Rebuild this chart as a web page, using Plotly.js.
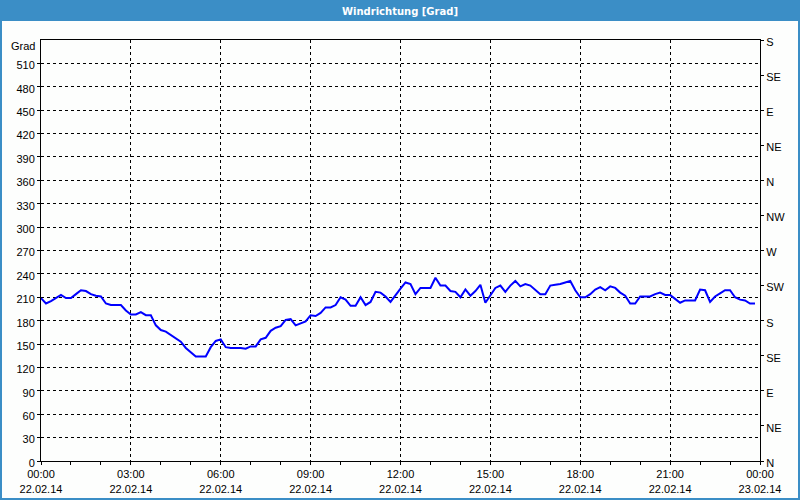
<!DOCTYPE html>
<html>
<head>
<meta charset="utf-8">
<script src="https://cdn.plot.ly/plotly-3.0.1.min.js"></script>
<style>
  html, body { margin: 0; padding: 0; background: #fdfefd; }
  #chart { width: 800px; height: 500px; }
</style>
</head>
<body>
<div id="chart"></div>
<script>
// Windrichtung in Grad, 10-Minuten-Werte ab 22.02.14 00:00
const startTime = '2014-02-22T00:00:00';
const endTime = '2014-02-23T00:00:00';
const stepMinutes = 10;

const direction = [
  209, 202, 205, 209, 213, 209, 209, 214, 219, 218, 214, 212,
  211, 202, 200, 200, 200, 193, 188, 188, 191, 187, 187, 174,
  168, 166, 162, 158, 153, 145, 139, 134, 134, 134, 146, 154,
  156, 146, 145, 145, 145, 144, 147, 147, 156, 158, 167, 171,
  173, 181, 182, 174, 177, 179, 187, 186, 190, 197, 197, 200,
  210, 207, 199, 199, 210, 200, 204, 217, 216, 211, 204, 213,
  221, 229, 227, 214, 222, 222, 222, 235, 225, 225, 218, 217,
  210, 220, 212, 218, 226, 203, 212, 222, 225, 217, 225, 231,
  224, 227, 225, 219, 214, 214, 225, 226, 227, 229, 231, 219,
  210, 210, 214, 220, 223, 219, 224, 222, 216, 212, 202, 202,
  211, 211, 211, 214, 216, 213, 213, 208, 203, 206, 206, 206,
  220, 219, 204, 211, 215, 219, 219, 210, 207, 206, 202, 202
];

const leftTicks = [0, 30, 60, 90, 120, 150, 180, 210, 240, 270, 300, 330, 360, 390, 420, 450, 480, 510];
const rightTicks = [0, 45, 90, 135, 180, 225, 270, 315, 360, 405, 450, 495, 540];
const rightLabels = ['N', 'NE', 'E', 'SE', 'S', 'SW', 'W', 'NW', 'N', 'NE', 'E', 'SE', 'S'];

function timeAxis() {
  const t0 = new Date(startTime.replace('T', ' ')).getTime();
  return direction.map((_, i) => {
    const d = new Date(t0 + i * stepMinutes * 60000);
    const p = (n) => String(n).padStart(2, '0');
    return `${d.getFullYear()}-${p(d.getMonth() + 1)}-${p(d.getDate())} ${p(d.getHours())}:${p(d.getMinutes())}`;
  });
}

// plot area in pixels: left 41, right 760, top 40, bottom 461
const plot = { l: 41, r: 760, t: 40, b: 461 };
const px = (x) => (x - plot.l) / (plot.r - plot.l);
const py = (y) => (plot.b - y) / (plot.b - plot.t);
const frameBlue = '#3b8ec6';

const times = timeAxis();
const font = { family: 'Liberation Sans, Arial, sans-serif', size: 11, color: '#000' };

const traces = [
  {
    x: times,
    y: direction,
    type: 'scatter',
    mode: 'lines',
    line: { color: '#0000ff', width: 2 },
    hoverinfo: 'x+y',
  },
  {
    x: times,
    y: direction,
    yaxis: 'y2',
    type: 'scatter',
    mode: 'lines',
    line: { width: 0 },
    opacity: 0,
    hoverinfo: 'skip',
  },
];

const layout = {
  width: 800,
  height: 500,
  showlegend: false,
  paper_bgcolor: '#fdfefd',
  plot_bgcolor: '#fdfefd',
  font,
  margin: { l: plot.l, r: 800 - plot.r, t: plot.t, b: 500 - plot.b, pad: 0 },
  title: {
    text: 'Windrichtung [Grad]',
    font: { family: 'DejaVu Sans, Verdana, sans-serif', size: 10, color: '#fff', weight: 'bold' },
    x: 0.5,
    xanchor: 'center',
    yref: 'container',
    y: 1 - 11 / 500,
    yanchor: 'middle',
  },
  xaxis: {
    type: 'date',
    range: [startTime.replace('T', ' '), endTime.replace('T', ' ')],
    dtick: 3 * 3600000,
    tick0: startTime.replace('T', ' '),
    tickformat: '%H:%M<br>%d.%m.%y',
    ticks: 'outside',
    ticklen: 3,
    tickcolor: '#000',
    showline: true,
    linecolor: '#000',
    linewidth: 1,
    mirror: true,
    showgrid: true,
    gridcolor: '#000',
    gridwidth: 1,
    griddash: '3px,3px',
    zeroline: false,
    minor: { dtick: 3600000, ticks: 'outside', ticklen: 3, tickcolor: '#000', showgrid: false },
    tickfont: font,
    fixedrange: true,
  },
  yaxis: {
    range: [0, 540],
    tickvals: leftTicks,
    ticks: 'outside',
    ticklen: 3,
    tickcolor: '#000',
    showline: true,
    linecolor: '#000',
    linewidth: 1,
    showgrid: true,
    gridcolor: '#000',
    gridwidth: 1,
    griddash: '3px,3px',
    zeroline: false,
    tickfont: font,
    ticklabelshift: 2,
    fixedrange: true,
  },
  yaxis2: {
    overlaying: 'y',
    side: 'right',
    range: [0, 540],
    tickvals: rightTicks,
    ticktext: rightLabels,
    ticks: 'outside',
    ticklen: 3,
    tickcolor: '#000',
    showline: true,
    linecolor: '#000',
    linewidth: 1,
    showgrid: false,
    zeroline: false,
    tickfont: font,
    ticklabelshift: 2,
    fixedrange: true,
  },
  annotations: [{
    text: 'Grad',
    xref: 'paper',
    yref: 'paper',
    x: 0,
    y: 1,
    xanchor: 'right',
    yanchor: 'middle',
    xshift: -4,
    yshift: -6,
    showarrow: false,
    font,
  }],
  shapes: [
    // title bar
    { type: 'rect', xref: 'paper', yref: 'paper', x0: px(0), x1: px(800), y0: py(21), y1: py(0),
      fillcolor: frameBlue, line: { width: 0 }, layer: 'below' },
    // frame
    { type: 'rect', xref: 'paper', yref: 'paper', x0: px(0), x1: px(2), y0: py(500), y1: py(0),
      fillcolor: frameBlue, line: { width: 0 }, layer: 'below' },
    { type: 'rect', xref: 'paper', yref: 'paper', x0: px(798), x1: px(800), y0: py(500), y1: py(0),
      fillcolor: frameBlue, line: { width: 0 }, layer: 'below' },
    { type: 'rect', xref: 'paper', yref: 'paper', x0: px(0), x1: px(800), y0: py(500), y1: py(498),
      fillcolor: frameBlue, line: { width: 0 }, layer: 'below' },
  ],
};

Plotly.newPlot('chart', traces, layout, { displayModeBar: false, staticPlot: true });
</script>
</body>
</html>
